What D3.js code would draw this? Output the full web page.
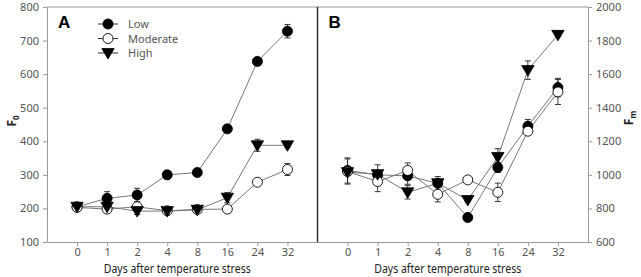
<!DOCTYPE html>
<html>
<head>
<meta charset="utf-8">
<script src="https://cdn.jsdelivr.net/npm/d3@7"></script>
<style>
	body { margin: 0; background: #fff; }
	text { font-family: "Noto Sans", "Open Sans", sans-serif; }
</style>
</head>
<body>
<script>
'use strict';

// Days after temperature stress (categorical)
const days = ["0", "1", "2", "4", "8", "16", "24", "32"];
const seriesNames = ["Low", "Moderate", "High"];

// Panel A: F0
const f0Low = [205, 230, 240, 300, 307, 437, 638, 728];
const f0LowErr = [10, 20, 20, 12, 6, 8, 6, 20];
const f0Mod = [203, 198, 205, 193, 197, 198, 278, 316];
const f0ModErr = [12, 10, 8, 6, 6, 10, 6, 18];
const f0High = [205, 205, 192, 192, 196, 232, 388, 388];
const f0HighErr = [12, 8, 10, 6, 8, 15, 18, 6];
const f0Ticks = [100, 200, 300, 400, 500, 600, 700, 800];

// Panel B: Fm
const fmLow = [1026, 1000, 994, 950, 746, 1044, 1290, 1520];
const fmLowErr = [75, 60, 50, 40, 25, 30, 40, 55];
const fmMod = [1020, 960, 1026, 884, 970, 896, 1260, 1494];
const fmModErr = [75, 60, 45, 45, 10, 55, 10, 75];
const fmHigh = [1016, 1004, 896, 950, 850, 1106, 1624, 1834];
const fmHighErr = [20, 20, 40, 20, 10, 50, 55, 10];
const fmTicks = [600, 800, 1000, 1200, 1400, 1600, 1800, 2000];

const params = {
	width: 641,
	height: 277,
	left: 47,
	panelWidth: 270.5,
	top: 7,
	bottom: 242
};

const axisGrey = "#999";
const textGrey = "#555";

const svg = d3.select("body").append("svg")
	.attr("width", params.width)
	.attr("height", params.height);

const build = (vals, errs) => vals.map((v, i) => ({ day: days[i], v: v, e: errs[i] }));

const panels = [
	{
		x0: params.left,
		domain: [100, 800], ticks: f0Ticks, side: "left", letter: "A",
		series: [build(f0Low, f0LowErr), build(f0Mod, f0ModErr), build(f0High, f0HighErr)]
	},
	{
		x0: params.left + params.panelWidth,
		domain: [600, 2000], ticks: fmTicks, side: "right", letter: "B",
		series: [build(fmLow, fmLowErr), build(fmMod, fmModErr), build(fmHigh, fmHighErr)]
	}
];

const marker = (sel, idx, size) => {
	if (idx === 2) {
		const s = size;
		sel.append("path")
			.attr("d", `M${-s * 0.62},${-s * 0.45}L${s * 0.62},${-s * 0.45}L0,${s * 0.6}Z`)
			.attr("fill", "#000").attr("stroke", "#000").attr("stroke-width", 0.8);
	} else {
		sel.append("circle")
			.attr("r", size * 0.5)
			.attr("fill", idx === 0 ? "#000" : "#fff")
			.attr("stroke", "#000").attr("stroke-width", 0.9);
	}
};

panels.forEach(p => {
	const x = d3.scalePoint()
		.domain(days)
		.range([p.x0, p.x0 + params.panelWidth])
		.padding(1);
	const y = d3.scaleLinear()
		.domain(p.domain)
		.range([params.bottom, params.top]);

	const g = svg.append("g");

	// x axis
	const xAxis = g.append("g")
		.attr("transform", `translate(0,${params.bottom})`)
		.call(d3.axisBottom(x).tickSize(4).tickSizeOuter(0).tickPadding(2));
	xAxis.select(".domain").attr("stroke", axisGrey);
	xAxis.selectAll(".tick line").attr("stroke", axisGrey);
	xAxis.selectAll(".tick text").attr("fill", textGrey).style("font-size", "11px");

	// y axis
	const yAxisGen = p.side === "left" ? d3.axisLeft(y) : d3.axisRight(y);
	const yAxis = g.append("g")
		.attr("transform", `translate(${p.side === "left" ? p.x0 : p.x0 + params.panelWidth},0)`)
		.call(yAxisGen.tickValues(p.ticks).tickFormat(d3.format("d")).tickSize(4).tickSizeOuter(0).tickPadding(4));
	yAxis.select(".domain").attr("stroke", axisGrey);
	yAxis.selectAll(".tick line").attr("stroke", axisGrey);
	yAxis.selectAll(".tick text").attr("fill", textGrey).style("font-size", "11px");

	// top border
	g.append("line")
		.attr("x1", p.x0).attr("x2", p.x0 + params.panelWidth)
		.attr("y1", params.top).attr("y2", params.top)
		.attr("stroke", axisGrey);

	// x title
	g.append("text")
		.attr("x", p.x0 + params.panelWidth / 2 - 5)
		.attr("y", 273)
		.attr("text-anchor", "middle")
		.attr("textLength", 147)
		.attr("lengthAdjust", "spacingAndGlyphs")
		.style("font-size", "12px")
		.attr("fill", "#222")
		.text("Days after temperature stress");

	// panel letter
	g.append("text")
		.attr("x", p.x0 + 11)
		.attr("y", 28)
		.style("font-size", "17px")
		.style("font-weight", "bold")
		.style("font-family", "'Liberation Sans', Arial, sans-serif")
		.attr("fill", "#000")
		.text(p.letter);

	const line = d3.line()
		.x(d => x(d.day))
		.y(d => y(d.v));

	p.series.forEach((s, idx) => {
		g.append("path")
			.datum(s)
			.attr("d", line)
			.attr("fill", "none")
			.attr("stroke", "#777")
			.attr("stroke-width", 1);
	});

	p.series.forEach((s, idx) => {
		const eb = g.append("g").attr("stroke", "#222").attr("stroke-width", 0.9);
		s.forEach(d => {
			const cx = x(d.day);
			eb.append("line").attr("x1", cx).attr("x2", cx).attr("y1", y(d.v - d.e)).attr("y2", y(d.v + d.e));
			eb.append("line").attr("x1", cx - 3).attr("x2", cx + 3).attr("y1", y(d.v - d.e)).attr("y2", y(d.v - d.e));
			eb.append("line").attr("x1", cx - 3).attr("x2", cx + 3).attr("y1", y(d.v + d.e)).attr("y2", y(d.v + d.e));
		});
	});

	p.series.forEach((s, idx) => {
		g.selectAll(null)
			.data(s)
			.join("g")
			.attr("transform", d => `translate(${x(d.day)},${y(d.v)})`)
			.each(function () { marker(d3.select(this), idx, 10); });
	});
});

// middle divider
svg.append("line")
	.attr("x1", params.left + params.panelWidth).attr("x2", params.left + params.panelWidth)
	.attr("y1", params.top).attr("y2", params.bottom)
	.attr("stroke", "#333").attr("stroke-width", 1.5);

// y titles
const yTitle = (tx, ty, sub) => {
	const t = svg.append("text")
		.attr("transform", `translate(${tx},${ty}) rotate(-90)`)
		.attr("text-anchor", "middle")
		.style("font-size", "12px")
		.style("font-weight", "bold")
		.attr("fill", "#222");
	t.append("tspan").text("F");
	t.append("tspan").attr("dy", 3).style("font-size", "8px").text(sub);
};
yTitle(16, 121, "0");
yTitle(633, 118, "m");

// legend
const legend = svg.append("g");
seriesNames.forEach((name, i) => {
	const ly = 24 + i * 14.5;
	const row = legend.append("g").attr("transform", `translate(108,${ly})`);
	row.append("line").attr("x1", -10).attr("x2", 10).attr("stroke", "#333").attr("stroke-width", 1);
	marker(row, i, 10);
	row.append("text")
		.attr("x", 20).attr("y", 4)
		.style("font-size", "11px")
		.attr("fill", textGrey)
		.text(name);
});
</script>
</body>
</html>
